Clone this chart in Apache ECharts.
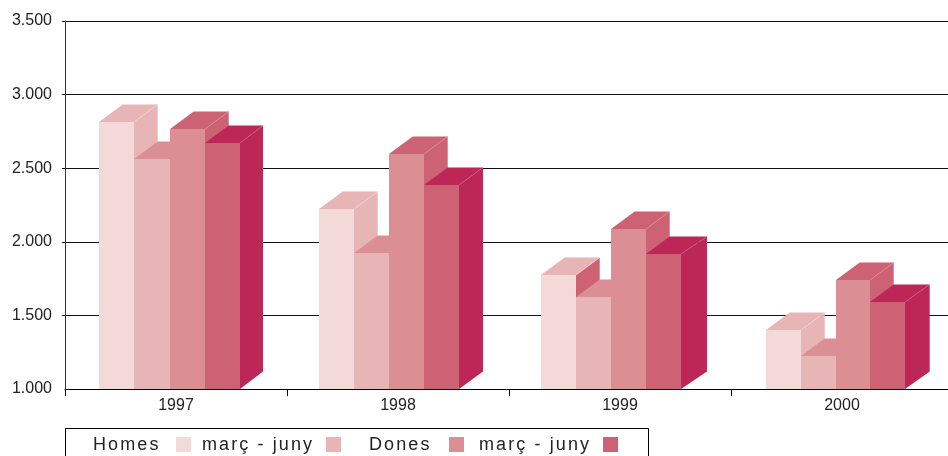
<!DOCTYPE html>
<html>
<head>
<meta charset="utf-8">
<style>html,body{margin:0;padding:0;background:#fff;overflow:hidden}#c{width:948px;height:456px}</style>
<script src="https://cdn.jsdelivr.net/npm/echarts@6/dist/echarts.min.js"></script>
</head>
<body>
<div id="c"></div>
<script>
const categories = ['1997', '1998', '1999', '2000'];
const homesMarcJuny = [2814, 2223, 1774, 1401];
const homesAltres = [2562, 1924, 1625, 1224];
const donesMarcJuny = [2766, 2596, 2087, 1740];
const donesAltres = [2671, 2386, 1917, 1591];
const legendLabels = ['Homes', 'març - juny', 'Dones', 'març - juny'];

const allSeries = [homesMarcJuny, homesAltres, donesMarcJuny, donesAltres];
const frontColors = ['#F4D9D9', '#E8B5B6', '#DB8F94', '#CC6273'];
const sideColors = ['#E8B5B6', '#DB8F94', '#CC6273', '#BD2757'];
const groupShift = [-77, -79, -79, -76];
const groupBarW = [35.3, 35.1, 35, 34.8];
const lastDepth = [23, 24, 26, 24.7];
const DX = 23.7, DY = 17.5;
const FONT = '"Liberation Sans", Arial, sans-serif';

// The legend of the reference uses tracked-out lettering
const origFill = CanvasRenderingContext2D.prototype.fillText;
CanvasRenderingContext2D.prototype.fillText = function (t, x, y, m) {
  this.letterSpacing = legendLabels.includes(t) ? '2.1px' : '0px';
  return m === undefined ? origFill.call(this, t, x, y) : origFill.call(this, t, x, y, m);
};

function render(params, api) {
  const s = params.seriesIndex;
  const cat = api.value(0);
  const base = api.coord([cat, 1000]);
  const top = api.coord([cat, api.value(1)]);
  const w = groupBarW[cat];
  const x0 = Math.round(base[0] + groupShift[cat] + s * w);
  const x1 = Math.round(base[0] + groupShift[cat] + (s + 1) * w);
  const yT = top[1], yB = base[1];
  const dxR = s === 3 ? lastDepth[cat] : DX;
  const topColor = sideColors[s], front = frontColors[s];
  // In the reference the first bar of 1999 has a darker side face
  const sideColor = (cat === 2 && s === 0) ? '#CC6273' : sideColors[s];
  return {
    type: 'group',
    children: [
      { type: 'polygon', shape: { points: [[x1, yB], [x1 + dxR, yB - DY], [x1 + dxR, yT - DY], [x1, yT]] }, style: { fill: sideColor } },
      { type: 'polygon', shape: { points: [[x0, yT], [x0 + DX, yT - DY], [x1 + dxR, yT - DY], [x1, yT]] }, style: { fill: topColor } },
      { type: 'polyline', shape: { points: [[x1, yT], [x1 + dxR, yT - DY]] }, style: { stroke: front, lineWidth: 0.6, fill: null } },
      { type: 'rect', shape: { x: x0, y: yT, width: x1 - x0, height: yB - yT }, style: { fill: front } }
    ]
  };
}

const legendX = [93, 202, 369, 479];
const swatchX = [176, 326, 449, 603];
const graphics = [{
  type: 'polyline', silent: true,
  shape: { points: [[65.5, 456], [65.5, 428.5], [648.5, 428.5], [648.5, 456]] },
  style: { stroke: '#000', lineWidth: 1, fill: null }
}];
legendLabels.forEach((label, i) => {
  graphics.push({ type: 'text', left: legendX[i], top: 436, silent: true,
    style: { text: label, font: '18px ' + FONT, fill: '#222' } });
  graphics.push({ type: 'rect', silent: true, shape: { x: swatchX[i], y: 437, width: 15, height: 15 },
    style: { fill: frontColors[i] } });
});

const chart = echarts.init(document.getElementById('c'), null, { renderer: 'canvas' });
chart.setOption({
  animation: false,
  backgroundColor: '#fff',
  grid: { left: 65, top: 21, width: 888, height: 368, outerBoundsMode: 'none', containLabel: false },
  xAxis: {
    type: 'category', data: categories,
    axisLine: { lineStyle: { color: '#000', width: 1 } },
    axisTick: { show: true, length: 7, lineStyle: { color: '#000', width: 1 } },
    axisLabel: { color: '#222', fontSize: 16, fontFamily: FONT, margin: 9 },
    splitLine: { show: false }
  },
  yAxis: {
    type: 'value', min: 1000, max: 3500, interval: 500,
    axisLine: { show: true, lineStyle: { color: '#333', width: 1 } },
    axisTick: { show: true, length: 3, customValues: [1500, 2000, 2500, 3000, 3500], lineStyle: { color: '#000', width: 1 } },
    axisLabel: {
      color: '#222', fontSize: 16, fontFamily: FONT, margin: 13,
      formatter: v => String(v).replace(/(\d)(\d{3})$/, '$1.$2')
    },
    splitLine: { show: true, lineStyle: { color: '#111', width: 1 } }
  },
  graphic: graphics,
  series: allSeries.map((vals, i) => ({
    name: legendLabels[i] + ' ' + i,
    type: 'custom',
    renderItem: render,
    encode: { x: 0, y: 1 },
    clip: false,
    data: vals.map((v, c) => [c, v])
  }))
});
</script>
</body>
</html>
